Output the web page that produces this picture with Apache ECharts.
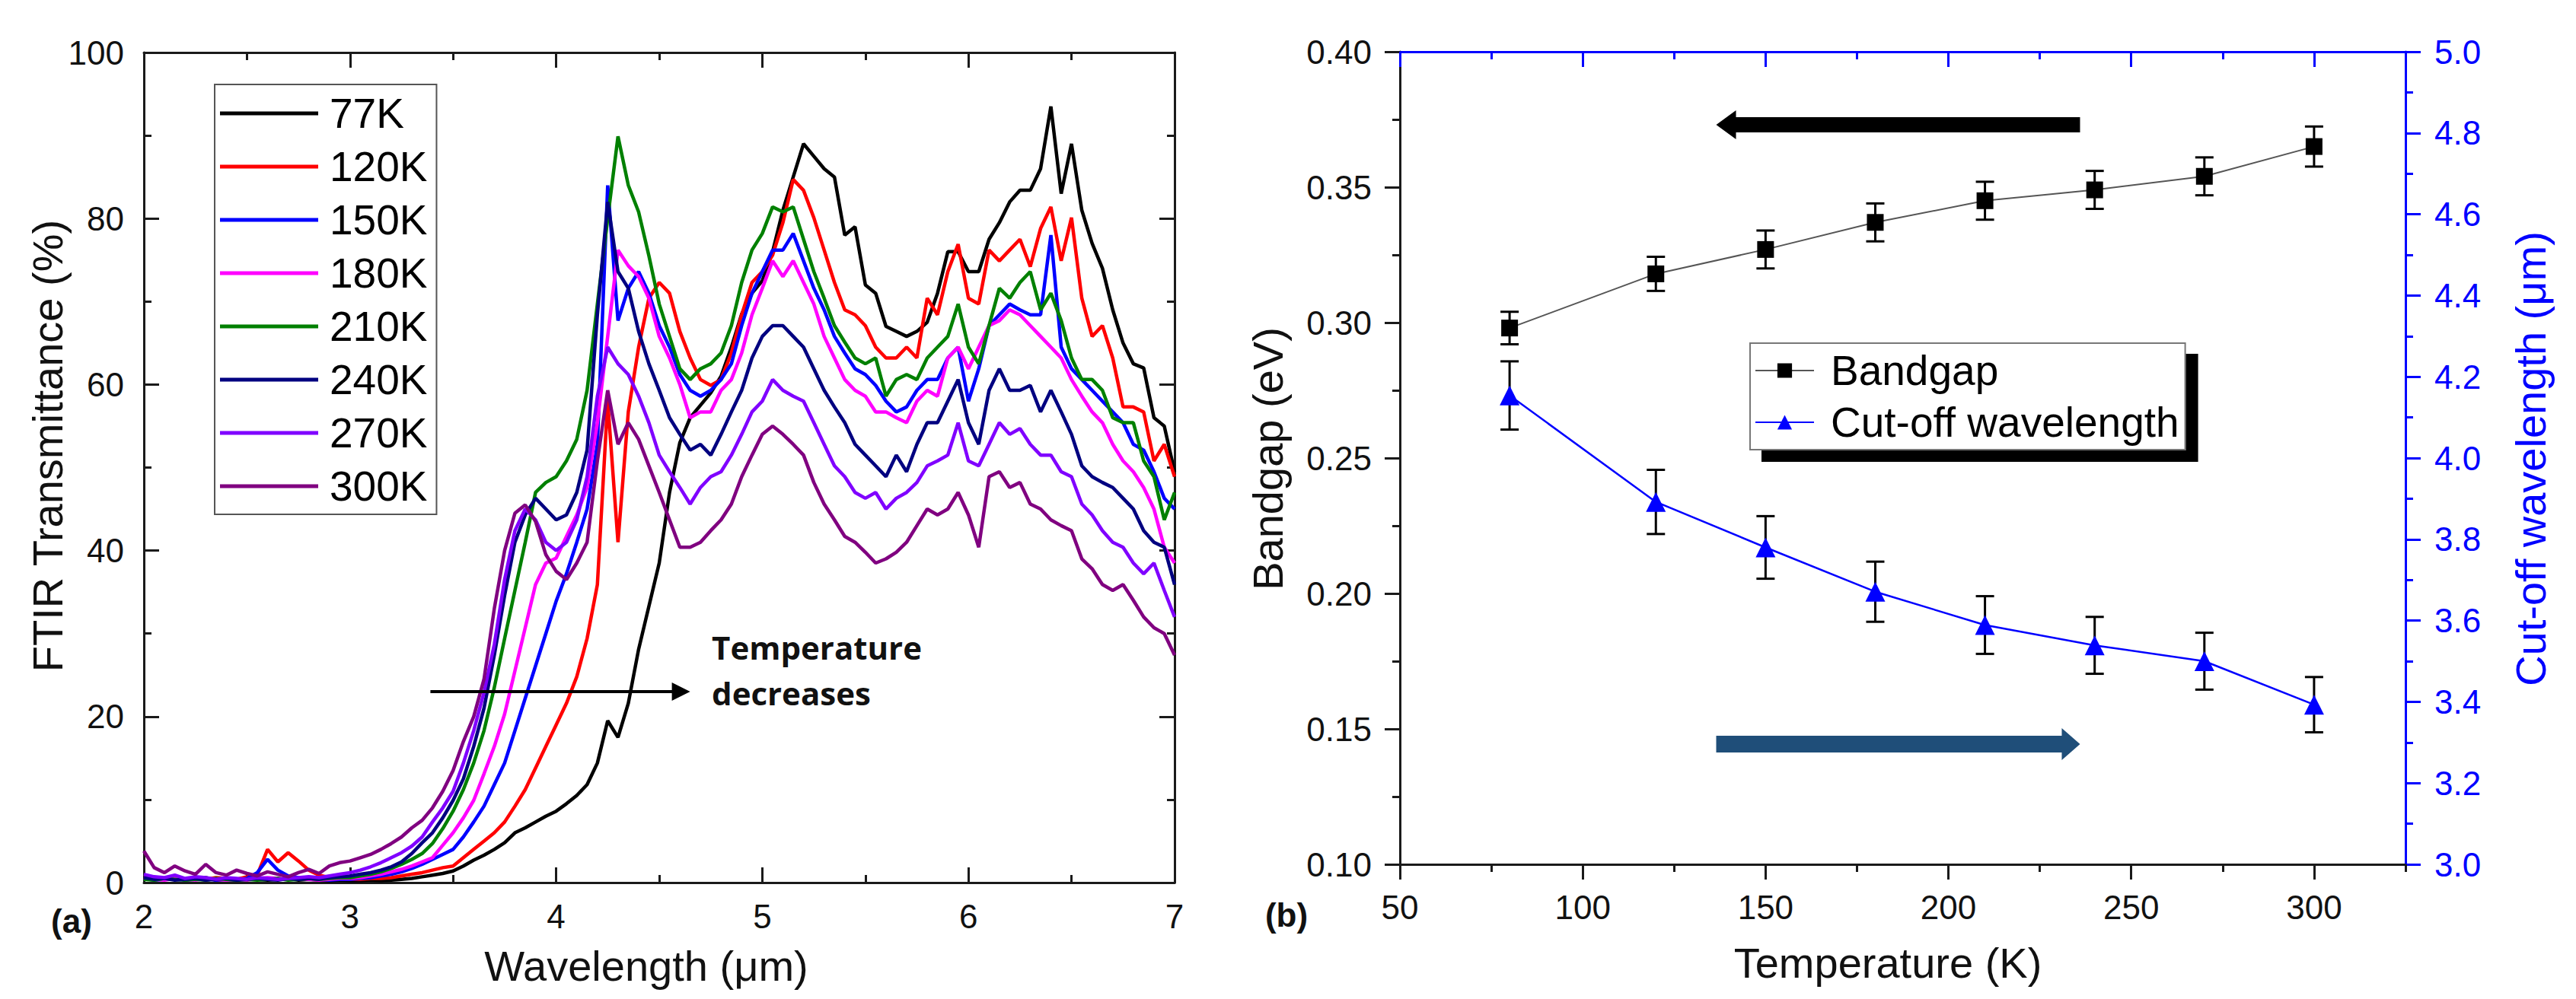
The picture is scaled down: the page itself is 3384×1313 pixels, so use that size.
<!DOCTYPE html>
<html>
<head>
<meta charset="utf-8">
<title>FTIR transmittance and bandgap vs temperature</title>
<script src="https://cdn.jsdelivr.net/npm/echarts@6.0.0/dist/echarts.min.js"></script>
<style>
  html, body { margin: 0; padding: 0; background: #fff; }
  #chart { width: 3384px; height: 1313px; }
</style>
</head>
<body>
<div id="chart"></div>
<script>
// ---- panel (a): FTIR transmittance (%) ----
var wavelength = [
  2.00, 2.05, 2.10, 2.15, 2.20, 2.25, 2.30, 2.35, 2.40, 2.45,
  2.50, 2.55, 2.60, 2.65, 2.70, 2.75, 2.80, 2.85, 2.90, 2.95,
  3.00, 3.05, 3.10, 3.15, 3.20, 3.25, 3.30, 3.35, 3.40, 3.45,
  3.50, 3.55, 3.60, 3.65, 3.70, 3.75, 3.80, 3.85, 3.90, 3.95,
  4.00, 4.05, 4.10, 4.15, 4.20, 4.25, 4.30, 4.35, 4.40, 4.45,
  4.50, 4.55, 4.60, 4.65, 4.70, 4.75, 4.80, 4.85, 4.90, 4.95,
  5.00, 5.05, 5.10, 5.15, 5.20, 5.25, 5.30, 5.35, 5.40, 5.45,
  5.50, 5.55, 5.60, 5.65, 5.70, 5.75, 5.80, 5.85, 5.90, 5.95,
  6.00, 6.05, 6.10, 6.15, 6.20, 6.25, 6.30, 6.35, 6.40, 6.45,
  6.50, 6.55, 6.60, 6.65, 6.70, 6.75, 6.80, 6.85, 6.90, 6.95,
  7.00
];
var t77 = [
  0.9, 0.5, 0.4, 0.7, 0.3, 0.5, 0.6, 0.3, 0.4, 0.3,
  0.5, 0.4, 0.3, 0.4, 0.5, 0.3, 0.4, 0.3, 0.2, 0.3,
  0.2, 0.2, 0.3, 0.2, 0.3, 0.4, 0.5, 0.7, 0.9, 1.1,
  1.4, 2.0, 2.7, 3.3, 4.0, 4.8, 6.0, 6.6, 7.3, 8.0,
  8.6, 9.5, 10.5, 11.8, 14.4, 19.5, 17.5, 21.6, 28.1, 33.3,
  38.5, 47, 53, 56, 57.5, 59, 61, 64.5, 68.5, 71,
  72.5, 76, 81, 85, 89, 87.5, 86, 85, 78, 79,
  72, 71, 67, 66.4, 65.8, 66.4, 67.5, 71, 76, 76,
  73.6, 73.6, 77.5, 79.5, 82, 83.4, 83.4, 86, 93.5, 83,
  89, 81, 77, 74, 69, 65, 62.5, 62, 56, 55,
  49.5
];
var t120 = [
  0.6, 0.4, 0.5, 0.8, 0.3, 0.5, 0.4, 0.6, 0.5, 0.4,
  0.7, 0.9, 4.0, 2.5, 3.6, 2.6, 1.5, 0.9, 0.6, 0.5,
  0.4, 0.4, 0.5, 0.5, 0.6, 0.8, 1.0, 1.2, 1.5, 1.8,
  2.0, 3.0, 4.0, 5.0, 6.0, 7.3, 9.2, 11.2, 13.8, 16.4,
  19, 21.6, 24.8, 29.4, 35.9, 58, 41, 56.7, 64.5, 70.4,
  72.3, 71, 66.4, 63.2, 60.6, 59.9, 60.6, 63.8, 68.4, 72.3,
  73.6, 75.6, 79.5, 84.7, 83.4, 80.1, 76.2, 72.3, 69, 68.4,
  67.1, 64.5, 63.2, 63.2, 64.5, 63.2, 70.4, 68.4, 73.6, 76.9,
  70.4, 69.7, 76.2, 74.9, 76.2, 77.5, 74.2, 78.8, 81.4, 74.9,
  80.1, 70.4, 65.8, 67.1, 63.2, 57.3, 57.3, 56.7, 50.8, 52.8,
  48.9
];
var t150 = [
  0.5, 0.3, 0.4, 0.6, 0.3, 0.4, 0.5, 0.3, 0.4, 0.3,
  0.5, 1.2, 2.8, 1.5, 0.8, 0.6, 0.5, 0.4, 0.3, 0.4,
  0.4, 0.5, 0.6, 0.8, 1.0, 1.3, 1.7, 2.2, 2.8, 3.4,
  4.0, 5.5, 7.3, 9.2, 11.8, 14.4, 18.3, 22.2, 26.1, 30,
  33.9, 37.2, 41, 45, 52.8, 84, 67.7, 71.6, 73.6, 71,
  67.1, 64.5, 61.2, 59.3, 58.6, 59.3, 60.6, 62.5, 67.1, 71,
  73.6, 76.2, 76.2, 78.2, 74.9, 71.6, 69, 65.8, 63.8, 61.9,
  61.2, 59.9, 58, 56.7, 57.3, 59.3, 60.6, 60.6, 63.2, 64.5,
  58, 61.9, 67.1, 68.4, 69.7, 69, 68.4, 68.4, 78, 64.5,
  61.9, 60.6, 59.3, 58, 56.7, 55.4, 52.8, 52.1, 49.5, 46.3,
  45
];
var t180 = [
  0.5, 0.4, 0.3, 0.5, 0.4, 0.3, 0.5, 0.4, 0.3, 0.4,
  0.3, 0.5, 0.6, 0.5, 0.4, 0.5, 0.4, 0.3, 0.4, 0.5,
  0.5, 0.6, 0.8, 1.0, 1.3, 1.6, 2.0, 2.5, 3.0, 4.5,
  6.0, 7.8, 9.9, 13.1, 16.4, 20.3, 25.5, 30.7, 35.9, 38.5,
  39.1, 41.7, 44.3, 47.6, 55.4, 65.8, 76.2, 74.3, 73, 70.4,
  65.8, 63.2, 60, 56, 56.7, 56.7, 59.3, 60.6, 63.8, 68.4,
  71.6, 74.9, 73, 74.9, 72.3, 69.7, 65.8, 63.2, 60.6, 59.3,
  58.6, 56.7, 56.7, 56, 55.4, 58, 59.3, 58.6, 63.2, 64.5,
  61.9, 64.5, 67.1, 67.7, 69, 68.4, 67.1, 65.8, 64.5, 63.2,
  60.6, 58.6, 56.7, 55.4, 52.8, 50.8, 49.5, 47.6, 45, 40.4,
  38.5
];
var t210 = [
  0.4, 0.3, 0.5, 0.4, 0.3, 0.4, 0.3, 0.5, 0.4, 0.3,
  0.4, 0.3, 0.4, 0.5, 0.3, 0.4, 0.5, 0.4, 0.5, 0.6,
  0.6, 0.8, 1.0, 1.3, 1.7, 2.2, 2.8, 3.5, 4.7, 6.5,
  8.6, 11.2, 14.4, 18.3, 23.5, 29.4, 35.2, 41, 47, 48.2,
  48.9, 50.8, 53.4, 59.3, 69.7, 80, 89.9, 84, 80.8, 75.5,
  69.7, 65.8, 61.9, 60.6, 61.9, 62.5, 63.8, 67.1, 72.3, 76.2,
  78.2, 81.4, 80.8, 81.4, 77.5, 73.6, 70.4, 67.1, 65.1, 63.2,
  62.5, 63.2, 58.6, 60.6, 61.2, 60.6, 63.2, 64.5, 65.8, 69.7,
  64.5, 62.5, 67.1, 71.6, 70.4, 72.3, 73.6, 69, 71, 67.7,
  63.2, 60.6, 60.6, 59.3, 56, 55.4, 55.4, 50.8, 48.9, 43.7,
  47
];
var t240 = [
  0.6, 0.4, 0.5, 0.3, 0.4, 0.5, 0.3, 0.4, 0.5, 0.3,
  0.4, 0.5, 0.4, 0.3, 0.5, 0.4, 0.5, 0.4, 0.6, 0.7,
  0.8, 1.0, 1.2, 1.5, 1.9, 2.5, 3.5, 4.8, 6.0, 7.8,
  9.9, 12.5, 16.4, 21, 27.4, 34.6, 41, 44.3, 46.3, 45,
  43.7, 44.3, 47, 52.1, 68.4, 82, 73.6, 71.6, 66.4, 62.5,
  59.3, 56, 54, 52.1, 52.8, 51.5, 54, 56.7, 59.3, 63.2,
  65.8, 67.1, 67.1, 65.8, 64.5, 61.9, 59.3, 57.3, 55.4, 52.8,
  51.5, 50.2, 48.9, 51.5, 49.5, 52.8, 55.4, 55.4, 58, 60.6,
  55.4, 52.8, 59.3, 61.9, 59.3, 59.3, 59.9, 56.7, 59.3, 56.7,
  54, 50.2, 48.9, 48.2, 47.6, 46.3, 45, 42.4, 41, 40.4,
  35.9
];
var t270 = [
  1.0, 0.7, 0.6, 0.9, 0.5, 0.7, 0.6, 0.4, 0.6, 0.5,
  0.4, 0.6, 0.5, 0.4, 0.5, 0.6, 0.7, 0.6, 0.8, 1.0,
  1.2, 1.5, 1.9, 2.4, 3.0, 3.6, 4.4, 5.5, 7.3, 9.0,
  11, 14.4, 18.3, 22.9, 28.7, 36.5, 42.4, 45, 43.7, 41,
  40, 41, 43.7, 48.9, 58.6, 64.5, 62.5, 61.2, 58.6, 55.4,
  51.5, 49.5, 47.6, 45.6, 47.6, 48.9, 49.5, 51.5, 54, 56.7,
  58, 60.6, 59.3, 58.6, 58, 55.4, 52.8, 50.2, 48.9, 47,
  46.3, 47, 45, 46.3, 47, 48.2, 50.2, 50.8, 51.5, 55.4,
  50.8, 50.2, 52.8, 55.4, 54, 54.7, 52.8, 51.5, 51.5, 49.5,
  48.9, 45.6, 44.3, 42.4, 41, 40.4, 38.5, 37.2, 38.5, 35.2,
  32
];
var t300 = [
  3.8, 1.8, 1.2, 2.0, 1.4, 1.0, 2.2, 1.2, 0.9, 1.5,
  1.1, 0.8, 1.3, 1.0, 0.7, 1.2, 1.6, 1.1, 2.0, 2.4,
  2.6, 3.0, 3.4, 4.0, 4.7, 5.5, 6.6, 7.5, 9.0, 11,
  13.5, 17, 20, 24.5, 33, 40, 44.5, 45.5, 43.5, 39.5,
  37.5, 36.5, 38.5, 41, 50.8, 59.3, 52.8, 55.4, 53.4, 50.2,
  47, 43.7, 40.4, 40.4, 41, 42.4, 43.7, 45.6, 48.9, 51.5,
  54, 55, 54, 52.8, 51.5, 48.2, 45.6, 43.7, 41.7, 41,
  39.8, 38.5, 39, 39.8, 41, 43, 45, 44.3, 45, 47,
  44.3, 40.4, 48.9, 49.5, 47.6, 48.2, 45.6, 45, 43.7, 43,
  42.4, 39, 37.8, 35.9, 35.2, 35.9, 34, 32, 30.7, 30,
  27.4
];
var spectraNames = ['77K', '120K', '150K', '180K', '210K', '240K', '270K', '300K'];
var spectraValues = [t77, t120, t150, t180, t210, t240, t270, t300];
var spectraColors = ['#000000', '#FF0000', '#0000FF', '#FF00FF', '#008000', '#000080', '#8000FF', '#800080'];

// ---- panel (b): bandgap and cut-off wavelength vs temperature ----
var temperature = [80, 120, 150, 180, 210, 240, 270, 300];
var bandgap = [0.298, 0.318, 0.327, 0.337, 0.345, 0.349, 0.354, 0.365];
var bandgapErr = [0.006, 0.0063, 0.007, 0.007, 0.007, 0.007, 0.007, 0.0074];
var cutoff = [4.154, 3.892, 3.78, 3.671, 3.589, 3.539, 3.5, 3.393];
var cutoffErr = [0.084, 0.079, 0.077, 0.074, 0.071, 0.07, 0.07, 0.068];
var tempTicks = [50, 100, 150, 200, 250, 300];

var FONT = '"Liberation Sans", Arial, sans-serif';
var INK = '#1a1a1a';
var BLUE = '#0000FF';

function tickStyle(color) {
  return { color: color, width: 3 };
}

// mirrored frame axes for panel (a), all ticks pointing inwards
function frameAxisA(pos, min, max, interval, showLabel, margin) {
  return {
    type: 'value', gridIndex: 0, position: pos, min: min, max: max, interval: interval,
    axisLine: { show: true, onZero: false, lineStyle: { color: INK, width: 3 } },
    axisTick: { show: true, inside: true, length: 20, lineStyle: tickStyle(INK) },
    minorTick: { show: true, splitNumber: 2, length: 10, lineStyle: tickStyle(INK) },
    axisLabel: { show: showLabel, margin: margin, fontSize: 44, color: '#111', fontFamily: FONT },
    splitLine: { show: false }, minorSplitLine: { show: false }
  };
}

var xAxes = [
  frameAxisA('bottom', 2, 7, 1, true, 22),
  frameAxisA('top', 2, 7, 1, false, 0),
  // panel (b) bottom: labelled major ticks
  {
    type: 'value', gridIndex: 1, position: 'bottom', min: 50, max: 325,
    axisLine: { show: true, onZero: false, lineStyle: { color: INK, width: 3 } },
    axisTick: { show: true, inside: false, length: 20, customValues: tempTicks, lineStyle: tickStyle(INK) },
    axisLabel: { show: true, customValues: tempTicks, margin: 34, fontSize: 44, color: '#111', fontFamily: FONT },
    splitLine: { show: false }
  },
  // panel (b) bottom: minor ticks
  {
    type: 'value', gridIndex: 1, position: 'bottom', min: 50, max: 325, interval: 25,
    axisLine: { show: false },
    axisTick: { show: true, inside: false, length: 10, lineStyle: tickStyle(INK) },
    axisLabel: { show: false }, splitLine: { show: false }
  },
  // panel (b) top (blue, inward)
  {
    type: 'value', gridIndex: 1, position: 'top', min: 50, max: 325,
    axisLine: { show: true, onZero: false, lineStyle: { color: BLUE, width: 3 } },
    axisTick: { show: true, inside: true, length: 20, customValues: tempTicks, lineStyle: tickStyle(BLUE) },
    axisLabel: { show: false }, splitLine: { show: false }
  },
  {
    type: 'value', gridIndex: 1, position: 'top', min: 50, max: 325, interval: 25,
    axisLine: { show: false },
    axisTick: { show: true, inside: true, length: 10, lineStyle: tickStyle(BLUE) },
    axisLabel: { show: false }, splitLine: { show: false }
  }
];

var yAxes = [
  frameAxisA('left', 0, 100, 20, true, 26),
  frameAxisA('right', 0, 100, 20, false, 0),
  {
    type: 'value', gridIndex: 1, position: 'left', min: 0.1, max: 0.4, interval: 0.05,
    axisLine: { show: true, onZero: false, lineStyle: { color: INK, width: 3 } },
    axisTick: { show: true, inside: false, length: 20, lineStyle: tickStyle(INK) },
    minorTick: { show: true, splitNumber: 2, length: 10, lineStyle: tickStyle(INK) },
    axisLabel: {
      margin: 37, fontSize: 44, color: '#111', fontFamily: FONT,
      formatter: function (v) { return v.toFixed(2); }
    },
    splitLine: { show: false }, minorSplitLine: { show: false }
  },
  {
    type: 'value', gridIndex: 1, position: 'right', min: 3, max: 5, interval: 0.2,
    axisLine: { show: true, onZero: false, lineStyle: { color: BLUE, width: 3 } },
    axisTick: { show: true, inside: false, length: 20, lineStyle: tickStyle(BLUE) },
    minorTick: { show: true, splitNumber: 2, length: 10, lineStyle: tickStyle(BLUE) },
    axisLabel: {
      margin: 38, fontSize: 44, color: BLUE, fontFamily: FONT,
      formatter: function (v) { return v.toFixed(1); }
    },
    splitLine: { show: false }, minorSplitLine: { show: false }
  }
];

var series = spectraNames.map(function (name, k) {
  return {
    name: name, type: 'line', xAxisIndex: 0, yAxisIndex: 0,
    symbol: 'none', showSymbol: false, z: 2 + k * 0.01,
    lineStyle: { color: spectraColors[k], width: 4.5 },
    itemStyle: { color: spectraColors[k] },
    data: wavelength.map(function (w, i) { return [w, spectraValues[k][i]]; })
  };
});

function errorBars(yIndex, values, errs) {
  return {
    type: 'custom', xAxisIndex: 2, yAxisIndex: yIndex, z: 3, silent: true,
    data: temperature.map(function (t, i) { return [t, values[i] - errs[i], values[i] + errs[i]]; }),
    encode: { x: 0, y: [1, 2] },
    renderItem: function (params, api) {
      var lo = api.coord([api.value(0), api.value(1)]);
      var hi = api.coord([api.value(0), api.value(2)]);
      var w = 12;
      var st = { stroke: '#000', lineWidth: 3, fill: null };
      return {
        type: 'group',
        children: [
          { type: 'line', shape: { x1: hi[0], y1: hi[1], x2: lo[0], y2: lo[1] }, style: st },
          { type: 'line', shape: { x1: hi[0] - w, y1: hi[1], x2: hi[0] + w, y2: hi[1] }, style: st },
          { type: 'line', shape: { x1: lo[0] - w, y1: lo[1], x2: lo[0] + w, y2: lo[1] }, style: st }
        ]
      };
    }
  };
}

series.push(errorBars(2, bandgap, bandgapErr));
series.push(errorBars(3, cutoff, cutoffErr));
series.push({
  name: 'Bandgap', type: 'line', xAxisIndex: 2, yAxisIndex: 2, z: 5,
  symbol: 'rect', symbolSize: 22,
  itemStyle: { color: '#000' },
  lineStyle: { color: '#555', width: 2 },
  data: temperature.map(function (t, i) { return [t, bandgap[i]]; })
});
series.push({
  name: 'Cut-off wavelength', type: 'line', xAxisIndex: 2, yAxisIndex: 3, z: 5,
  symbol: 'triangle', symbolSize: 26,
  itemStyle: { color: BLUE },
  lineStyle: { color: BLUE, width: 2.5 },
  data: temperature.map(function (t, i) { return [t, cutoff[i]]; })
});

var option = {
  backgroundColor: '#fff',
  animation: false,
  grid: [
    { left: 189, top: 69, width: 1354, height: 1091 },
    { left: 1839, top: 68, width: 1321, height: 1068 }
  ],
  xAxis: xAxes,
  yAxis: yAxes,
  legend: [
    {
      data: spectraNames, orient: 'vertical', left: 282, top: 111,
      icon: 'rect', itemWidth: 129, itemHeight: 5, itemGap: 10,
      padding: [8, 12, 7, 7],
      backgroundColor: '#fff', borderColor: '#555', borderWidth: 2, borderRadius: 0,
      selectedMode: false,
      textStyle: { fontSize: 55, lineHeight: 60, color: '#000', fontFamily: FONT, padding: [0, 0, 0, 10] }
    },
    {
      data: ['Bandgap', 'Cut-off wavelength'], orient: 'vertical', left: 2299, top: 451,
      itemWidth: 77, itemHeight: 24, itemGap: 8,
      padding: [6, 8, 6, 6],
      backgroundColor: '#fff', borderColor: '#777', borderWidth: 2, borderRadius: 0,
      shadowColor: '#000', shadowBlur: 0, shadowOffsetX: 16, shadowOffsetY: 15,
      selectedMode: false,
      textStyle: { fontSize: 55, lineHeight: 60, color: '#000', fontFamily: FONT, padding: [0, 0, 0, 17] }
    }
  ],
  series: series
};

var chart = echarts.init(document.getElementById('chart'), null, { renderer: 'svg' });
chart.setOption(option);

// ---- annotations: titles, panel tags, arrows ----
function toPx(xi, yi, p) {
  return chart.convertToPixel({ xAxisIndex: xi, yAxisIndex: yi }, p);
}
function label(text, x, y, opts) {
  opts = opts || {};
  return {
    type: 'text', x: x, y: y, rotation: opts.rotate ? Math.PI / 2 : 0, z: 100,
    style: {
      text: text, fill: opts.color || '#111', align: opts.align || 'center', verticalAlign: 'middle',
      font: (opts.weight || 'normal') + ' ' + (opts.size || 56) + 'px ' + (opts.family || FONT)
    }
  };
}
function blockArrow(tail, tip, shaftHalf, headHalf, headLen, color) {
  var dir = tip[0] > tail[0] ? 1 : -1;
  var bx = tip[0] - dir * headLen;
  var y = tip[1];
  return {
    type: 'polygon', z: 100,
    shape: { points: [
      [tail[0], y - shaftHalf], [bx, y - shaftHalf], [bx, y - headHalf], [tip[0], y],
      [bx, y + headHalf], [bx, y + shaftHalf], [tail[0], y + shaftHalf]
    ] },
    style: { fill: color }
  };
}

var aTail = toPx(0, 0, [3.39, 23]);
var aTip = toPx(0, 0, [4.65, 23]);
var tLine1 = toPx(0, 0, [4.755, 28.4]);
var tLine2 = toPx(0, 0, [4.755, 22.9]);
var bLeftTip = toPx(2, 2, [136.5, 0.373]);
var bLeftTail = toPx(2, 2, [236, 0.373]);
var bRightTail = toPx(2, 2, [136.5, 0.1444]);
var bRightTip = toPx(2, 2, [236, 0.1444]);

chart.setOption({
  graphic: [
    label('FTIR Transmittance (%)', 62, 586, { rotate: true }),
    label('Wavelength (\u03bcm)', 849, 1269),
    label('Bandgap (eV)', 1665, 603, { rotate: true }),
    label('Temperature (K)', 2480, 1265),
    label('Cut-off wavelength (\u03bcm)', 3324, 603, { rotate: true, color: BLUE }),
    label('(a)', 94, 1210, { weight: 'bold', size: 44 }),
    label('(b)', 1690, 1202, { weight: 'bold', size: 44 }),
    label('Temperature', tLine1[0], tLine1[1], { weight: 'bold', size: 42, align: 'left', family: '"Open Sans", sans-serif' }),
    label('decreases', tLine2[0], tLine2[1], { weight: 'bold', size: 42, align: 'left', family: '"Open Sans", sans-serif' }),
    blockArrow(aTail, aTip, 2, 12, 24, '#000'),
    blockArrow(bLeftTail, bLeftTip, 10, 19, 26, '#000'),
    blockArrow(bRightTail, bRightTip, 11, 21, 24, '#1F4E79')
  ]
});
</script>
</body>
</html>
